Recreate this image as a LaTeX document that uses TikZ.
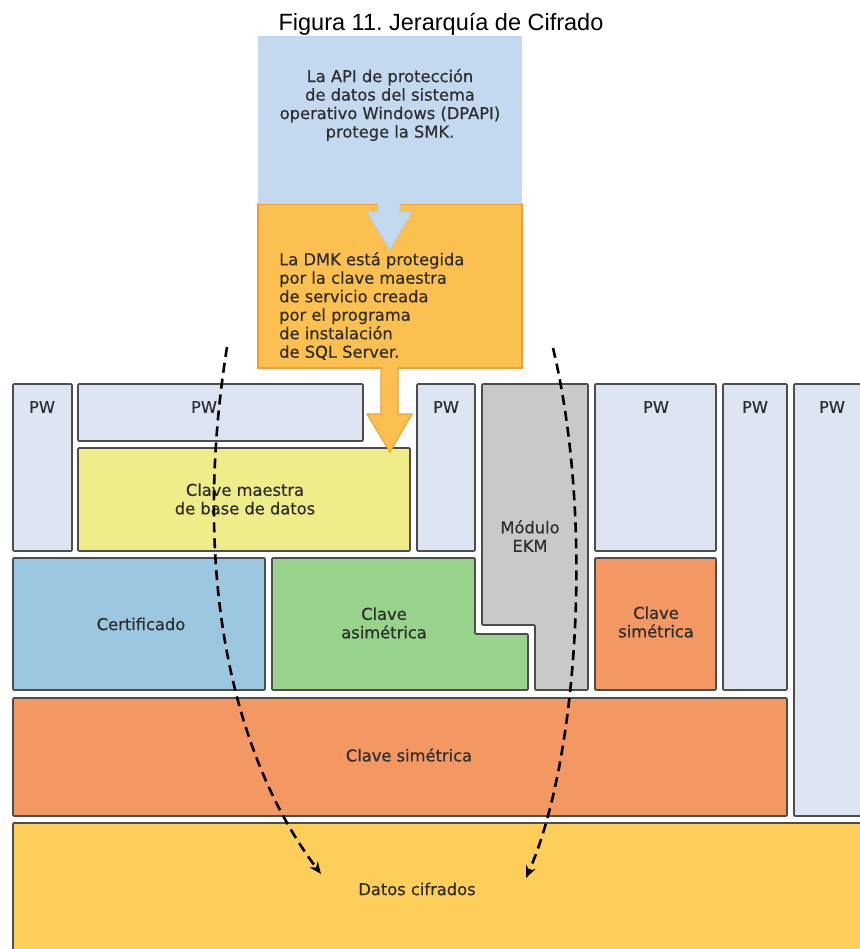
\documentclass[tikz,border=0pt]{standalone}
\usepackage{fontspec}
\usetikzlibrary{arrows.meta}
\newfontfamily\vfont[FakeBold=0.5]{DejaVu Sans}
\newfontfamily\tfont{Liberation Sans}
\definecolor{bluetop}{HTML}{C3D9F0}
\definecolor{bluetopline}{HTML}{B0CBE8}
\definecolor{orangetop}{HTML}{FCC050}
\definecolor{orangeline}{HTML}{F0A038}
\definecolor{pwfill}{HTML}{DDE5F3}
\definecolor{yellowfill}{HTML}{EFEC8A}
\definecolor{grayfill}{HTML}{C9C9C9}
\definecolor{certfill}{HTML}{9CC7E0}
\definecolor{greenfill}{HTML}{97D38A}
\definecolor{salmon}{HTML}{F39763}
\definecolor{datosfill}{HTML}{FDCF5A}
\definecolor{bordc}{HTML}{4D4D4D}
\definecolor{txtc}{HTML}{2E2E2E}
\tikzset{
  box/.style={draw=bordc, line width=1.6pt, rounded corners=1pt},
  lbl/.style={font=\vfont\fontsize{16.3}{18.5}\selectfont, text=txtc, inner sep=0pt, align=center},
  flow/.style={line width=2.6pt, dash pattern=on 10pt off 6pt, -{Stealth[length=12pt,width=10pt]}}
}
\begin{document}
\frenchspacing
\begin{tikzpicture}[x=1pt,y=-1pt]
\useasboundingbox (0,0) rectangle (859,949);
\fill[white] (0,0) rectangle (859,949);
% title
\node[font=\tfont\fontsize{23.5}{26}\selectfont, anchor=base, inner sep=0pt] (title) at (441,31) {Figura 11. Jerarquía de Cifrado};
% top boxes
\draw[orangeline, fill=orangetop, line width=1.2pt] (258,204) rectangle (522,368);
\fill[bluetop] (258,36) rectangle (522,204);
\draw[bluetopline, fill=bluetop, line width=0.8pt] (378,203) -- (378,212) -- (367,212) -- (390,250) -- (412,212) -- (400,212) -- (400,203);
\fill[bluetop] (378.5,200) rectangle (399.5,205);
\node[lbl] (dpapi) at (390,105) {La API de protección\\de datos del sistema\\operativo Windows (DPAPI)\\protege la SMK.};
\node[lbl, align=left, anchor=north west] (dmk) at (279,252) {La DMK está protegida\\por la clave maestra\\de servicio creada\\por el programa\\de instalación\\de SQL Server.};
% bottom layers
\draw[box, fill=datosfill] (13,823) rectangle (870,960);
\draw[box, fill=salmon] (13,698) rectangle (787,816);
\draw[box, fill=pwfill] (794,384) rectangle (870,816);
\draw[box, fill=certfill] (13,558) rectangle (265,690);
\draw[box, fill=greenfill] (272,558) -- (475,558) -- (475,634) -- (528,634) -- (528,690) -- (272,690) -- cycle;
\draw[box, fill=grayfill] (482,384) -- (588,384) -- (588,690) -- (535,690) -- (535,625) -- (482,625) -- cycle;
\draw[box, fill=salmon] (595,558) rectangle (716,690);
\draw[box, fill=pwfill] (595,384) rectangle (716,551);
\draw[box, fill=pwfill] (723,384) rectangle (787,690);
\draw[box, fill=pwfill] (417,384) rectangle (475,551);
\draw[box, fill=pwfill] (13,384) rectangle (72,551);
\draw[box, fill=pwfill] (78,384) rectangle (363,441);
\draw[box, fill=yellowfill] (78,448) rectangle (410,551);
% orange block arrow
\draw[orangeline, fill=orangetop, line width=1.2pt] (381,367) -- (381,414) -- (367,414) -- (390,452) -- (412,414) -- (398,414) -- (398,367);
\fill[orangetop] (381.8,362) rectangle (397.2,368);
% labels
\node[lbl] (pw1) at (42,407) {PW};
\node[lbl] (pw2) at (204,407) {PW};
\node[lbl] (pw3) at (446,407) {PW};
\node[lbl] (pw4) at (656,407) {PW};
\node[lbl] (pw5) at (755,407) {PW};
\node[lbl] (pw6) at (832,407) {PW};
\node[lbl] (dbmk) at (245,499) {Clave maestra\\de base de datos};
\node[lbl] (ekm) at (530,536) {Módulo\\EKM};
\node[lbl] (cert) at (141,624) {Certificado};
\node[lbl] (asim) at (384,623) {Clave\\asimétrica};
\node[lbl] (sim1) at (656,622) {Clave\\simétrica};
\node[lbl] (sim2) at (409,755) {Clave simétrica};
\node[lbl] (datos) at (417,889) {Datos cifrados};
% dashed flows
\coordinate (l0) at (227,347);
\coordinate (l1) at (321,874);
\coordinate (r0) at (553,348);
\coordinate (r1) at (526,878);
\draw[flow] (l0) .. controls (190,580) and (235,760) .. (l1);
\draw[flow] (r0) .. controls (594,520) and (578,760) .. (r1);
\end{tikzpicture}
\end{document}
